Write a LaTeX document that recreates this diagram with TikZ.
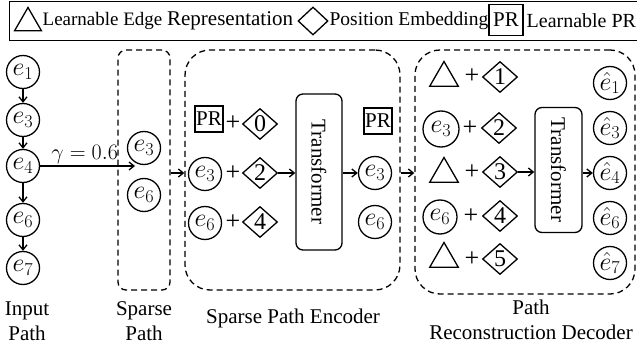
\RequirePackage{fix-cm}
\documentclass[tikz,border=0pt]{standalone}
\usepackage{fontspec}
\setmainfont{Liberation Serif}
\usetikzlibrary{arrows.meta,shapes.geometric}
\begin{document}
\begin{tikzpicture}[x=1pt,y=-1pt,line width=1.3pt,
  every node/.style={font=\fontsize{20}{24}\selectfont},
  ecirc/.style={circle,draw,inner sep=0pt,minimum size=33pt,font=\fontsize{26}{30}\selectfont},
  tri/.style={regular polygon,regular polygon sides=3,draw,inner sep=0pt,minimum size=33pt},
  dia/.style={diamond,draw,inner sep=0pt,minimum width=35pt,minimum height=31pt,font=\fontsize{24}{26}\selectfont},
  prbox/.style={rectangle,draw,inner sep=1pt,minimum width=28pt,minimum height=26pt,font=\fontsize{21}{24}\selectfont},
  tbox/.style={rectangle,draw,rounded corners=7pt,inner sep=0pt},
  dbox/.style={rectangle,draw,dash pattern=on 6pt off 4pt},
  arr/.style={-{Straight Barb[length=5pt,width=8pt]}},
  lbl/.style={align=center,font=\fontsize{21}{25}\selectfont},
  plus/.style={inner sep=0pt,font=\fontsize{26}{28}\selectfont}]
\useasboundingbox (0,0) rectangle (637,350);
\clip (0,0) rectangle (637,350);
% legend
\node[draw,rectangle,minimum width=640pt,minimum height=39pt,anchor=north west] (leg) at (9,1) {};
\node[tri,minimum size=31pt] (lt) at (28,23) {};
\node[anchor=west,inner sep=0pt] (lt1) at (42,21) {\fontsize{19}{22}\selectfont Learnable Edge \fontsize{21}{24}\selectfont Representation};
\node[dia,minimum width=30pt,minimum height=28pt] (ld) at (313,21) {};
\node[anchor=west,inner sep=0pt,font=\fontsize{19.5}{22}\selectfont] (ld1) at (329,21) {Position Embedding};
\node[prbox,minimum width=34pt,minimum height=31pt] (lp) at (506,20) {PR};
\node[anchor=west,inner sep=0pt] (lp1) at (526,21) {Learnable PR};
% input path
\node[ecirc] (i1) at (23,72) {$e_1$};
\node[ecirc] (i3) at (23,120) {$e_3$};
\node[ecirc] (i4) at (23,166) {$e_4$};
\node[ecirc] (i6) at (23,220) {$e_6$};
\node[ecirc] (i7) at (23,268) {$e_7$};
\draw[arr] (i1) -- (i3);
\draw[arr] (i3) -- (i4);
\draw[arr] (i4) -- (i6);
\draw[arr] (i6) -- (i7);
\coordinate (gend) at (135,166);
\draw[arr] (i4.east) -- node[above,inner sep=2pt,xshift=-3pt,font=\fontsize{22}{26}\selectfont] (gam) {$\gamma = 0.6$} (gend);
% sparse path
\node[dbox,rounded corners=8pt,minimum width=52pt,minimum height=240pt] (sp) at (144,170) {};
\node[ecirc] (s3) at (144,148) {$e_3$};
\node[ecirc] (s6) at (144,195) {$e_6$};
% encoder
\node[dbox,rounded corners=25pt,minimum width=215pt,minimum height=240pt] (enc) at (292.5,170) {};
\draw[arr] (sp.east |- 0,173) -- (enc.west |- 0,173);
\node[prbox] (pr0) at (209,119) {PR};
\node[plus] (p0) at (233,123) {+};
\node[dia] (d0) at (260,124) {0};
\node[ecirc] (c3) at (205,174) {$e_3$};
\node[plus] (p2) at (233,173) {+};
\node[dia] (d2) at (260,173) {2};
\node[ecirc] (c6) at (205,223) {$e_6$};
\node[plus] (p4) at (233,222) {+};
\node[dia] (d4) at (260,222) {4};
\node[tbox,minimum width=46pt,minimum height=156pt] (t1) at (319,172) {};
\node[rotate=-90,font=\fontsize{21}{24}\selectfont] (t1l) at (t1.center) {Transformer};
\draw[arr] (d2.east) -- (t1.west |- d2);
\node[prbox] (opr) at (378,121) {PR};
\node[ecirc] (o3) at (375,173) {$e_3$};
\node[ecirc] (o6) at (375,222) {$e_6$};
\draw[arr] (t1.east |- o3) -- (o3.west);
% decoder
\node[dbox,rounded corners=25pt,minimum width=220pt,minimum height=244pt] (dec) at (525,172) {};
\draw[arr] (enc.east |- 0,173) -- (dec.west |- 0,173);
\node[tri] (r1) at (444,78) {};
\node[plus] (q1) at (472,76) {+};
\node[dia] (e1) at (500,77) {1};
\node[ecirc,minimum size=36pt] (r2) at (441,129) {$e_3$};
\node[plus] (q2) at (470,128) {+};
\node[dia] (e2) at (499,128) {2};
\node[tri] (r3) at (444,174) {};
\node[plus] (q3) at (472,172) {+};
\node[dia] (e3) at (500,172) {3};
\node[ecirc,minimum size=34pt] (r4) at (440,217) {$e_6$};
\node[plus] (q4) at (471,216) {+};
\node[dia] (e4) at (500,216) {4};
\node[tri] (r5) at (444,259) {};
\node[plus] (q5) at (472,259) {+};
\node[dia] (e5) at (500,259) {5};
\node[tbox,minimum width=47pt,minimum height=125pt] (t2) at (558.5,170) {};
\node[rotate=-90,font=\fontsize{21}{24}\selectfont] (t2l) at (t2.center) {Transformer};
\node[ecirc] (h1) at (610,83) {$\hat{e}_1$};
\node[ecirc] (h3) at (610,128) {$\hat{e}_3$};
\node[ecirc] (h4) at (610,173) {$\hat{e}_4$};
\node[ecirc] (h6) at (610,218) {$\hat{e}_6$};
\node[ecirc] (h7) at (610,263) {$\hat{e}_7$};
\draw[arr] (e3.east) -- (t2.west |- e3);
\draw[arr] (t2.east |- h4) -- (h4.west);
% labels
\node[lbl] (lin) at (27,321) {Input\\Path};
\node[lbl] (lsp) at (144,321) {Sparse\\Path};
\node[lbl] (len) at (293,318) {Sparse Path Encoder};
\node[lbl] (lde) at (531,320) {Path\\Reconstruction Decoder};
\end{tikzpicture}
\end{document}
